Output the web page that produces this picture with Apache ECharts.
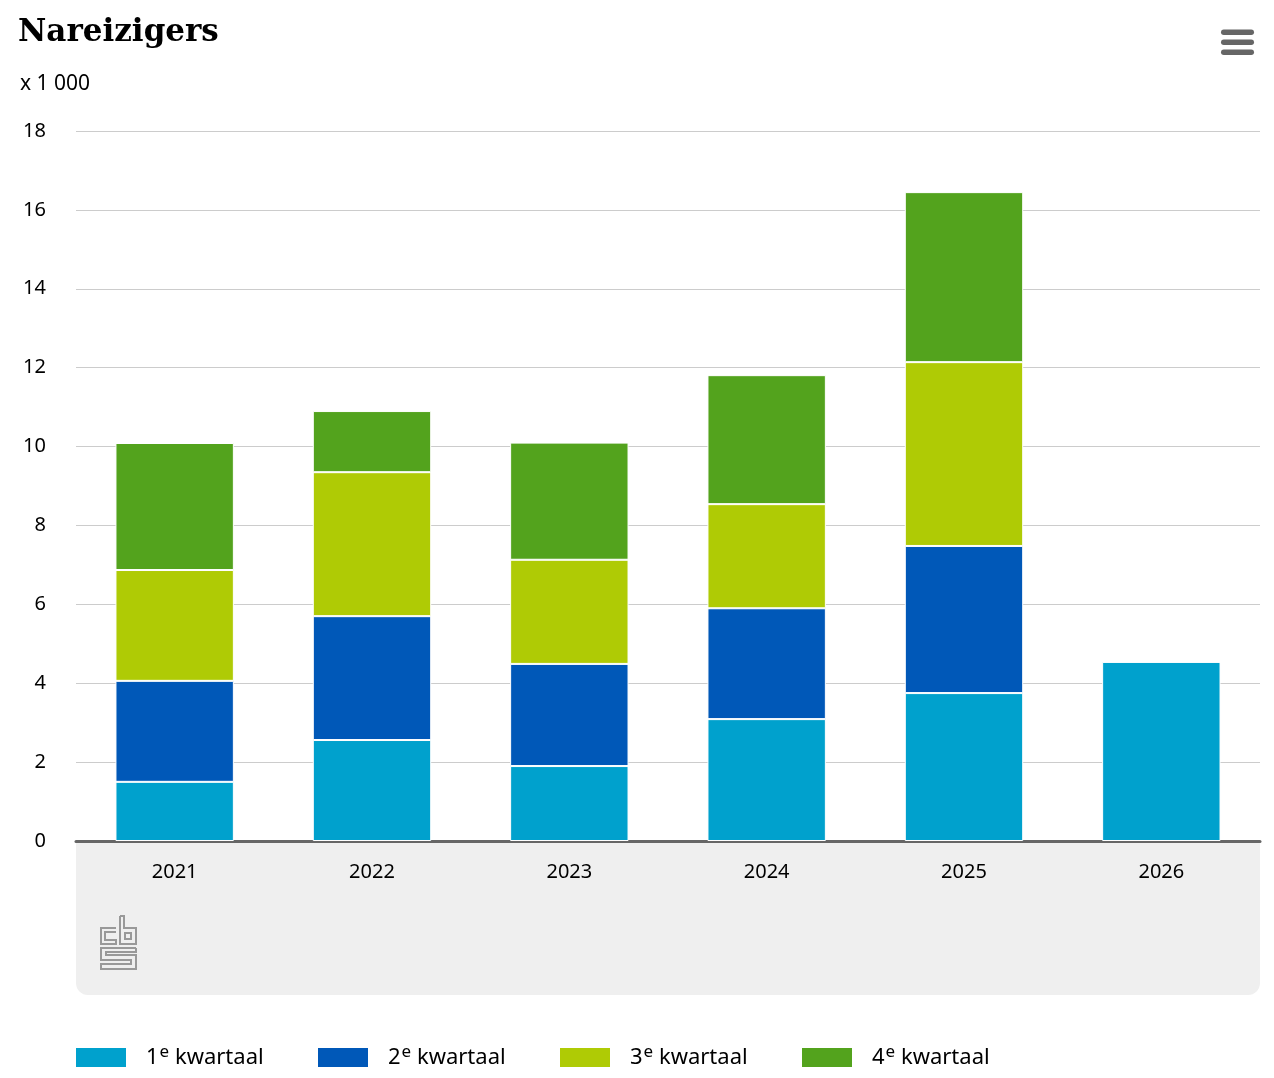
<!DOCTYPE html>
<html>
<head>
<meta charset="utf-8">
<script src="https://cdn.jsdelivr.net/npm/echarts@6/dist/echarts.min.js"></script>
<style>html,body{margin:0;padding:0;background:#fff}#c{width:1274px;height:1078px}</style>
</head>
<body>
<div id="c"></div>
<script>
var categories = ['2021', '2022', '2023', '2024', '2025', '2026'];
var q1 = [1.50, 2.56, 1.90, 3.09, 3.75, 4.54];
var q2 = [2.56, 3.14, 2.59, 2.81, 3.73, null];
var q3 = [2.81, 3.65, 2.64, 2.64, 4.66, null];
var q4 = [3.22, 1.55, 2.97, 3.27, 4.31, null];
var seriesNames = ['1e kwartaal', '2e kwartaal', '3e kwartaal', '4e kwartaal'];
var colors = ['#00a1cd', '#0058b8', '#afcb05', '#53a31d'];
var yTicks = [0, 2, 4, 6, 8, 10, 12, 14, 16, 18];

var chart = echarts.init(document.getElementById('c'));
var dataSets = [q1, q2, q3, q4];
var series = dataSets.map(function (d, i) {
  return {
    name: seriesNames[i],
    type: 'bar',
    stack: 'total',
    barWidth: '60%',
    data: d.map(function (v) { return v === null ? '-' : v; }),
    itemStyle: { color: colors[i], borderColor: '#fff', borderWidth: 1 }
  };
});

var legendLefts = [74, 316, 558, 800];
var legends = seriesNames.map(function (name, i) {
  return {
    left: legendLefts[i], top: 1044, padding: 0,
    itemWidth: 52, itemHeight: 21,
    icon: 'rect',
    selectedMode: false,
    data: [name],
    formatter: function (n) {
      return '{n|' + n.charAt(0) + '}{s|e}{t| kwartaal}';
    },
    textStyle: {
      rich: {
        n: { fontFamily: 'Noto Sans', fontSize: 22, color: '#000', height: 24, padding: [0, 0, 0, 14] },
        s: { fontFamily: 'Noto Sans', fontSize: 17, color: '#000', padding: [0, 0, 10, 1], height: 24 },
        t: { fontFamily: 'Noto Sans', fontSize: 22, color: '#000', height: 24 }
      }
    }
  };
});

var logoStyle = { stroke: '#999', lineWidth: 2, fill: null };
chart.setOption({
  animation: false,
  color: colors,
  title: [
    { text: 'Nareizigers', left: 18, top: 17, padding: 0,
      textStyle: { fontFamily: 'DejaVu Serif', fontWeight: 'bold', fontSize: 31, color: '#000' } },
    { text: 'x 1 000', left: 20, top: 74, padding: 0,
      textStyle: { fontFamily: 'Noto Sans', fontWeight: 'normal', fontSize: 21, color: '#000' } }
  ],
  grid: { left: 76, right: 14, top: 131, bottom: 237, containLabel: false },
  graphic: [
    { type: 'rect', z: -10, shape: { x: 76, y: 841, width: 1184, height: 154, r: [0, 0, 12, 12] },
      style: { fill: '#efefef' } },
    { type: 'rect', shape: { x: 1221, y: 29.5, width: 33, height: 5.5, r: 2.75 }, style: { fill: '#666' } },
    { type: 'rect', shape: { x: 1221, y: 39.5, width: 33, height: 5.5, r: 2.75 }, style: { fill: '#666' } },
    { type: 'rect', shape: { x: 1221, y: 49.5, width: 33, height: 5.5, r: 2.75 }, style: { fill: '#666' } },
    { type: 'polyline', shape: { points: [[116, 928], [101, 928], [101, 944], [116, 944], [116, 940], [105, 940], [105, 932], [116, 932]] }, style: logoStyle },
    { type: 'polyline', shape: { points: [[120, 916], [124, 916], [124, 928], [136, 928], [136, 944], [120, 944], [120, 916]] }, style: logoStyle },
    { type: 'rect', shape: { x: 125, y: 933, width: 6, height: 6 }, style: logoStyle },
    { type: 'polyline', shape: { points: [[136, 948], [101, 948], [101, 960], [131, 960], [131, 964], [101, 964], [101, 969], [136, 969], [136, 955], [106, 955], [106, 952], [136, 952], [136, 948]] }, style: logoStyle }
  ],
  legend: legends,
  xAxis: {
    type: 'category',
    data: categories,
    axisLine: { show: true, lineStyle: { color: '#666', width: 3 } },
    axisTick: { show: false },
    axisLabel: { color: '#000', fontFamily: 'Noto Sans', fontSize: 20, margin: 21 },
    splitLine: { show: false }
  },
  yAxis: {
    type: 'value',
    min: 0, max: 18, interval: 2,
    axisLine: { show: false },
    axisTick: { show: false },
    axisLabel: { color: '#000', fontFamily: 'Noto Sans', fontSize: 20, margin: 30,
      formatter: function (v) { return yTicks.indexOf(v) >= 0 ? String(v) : ''; } },
    splitLine: { lineStyle: { color: '#ccc', width: 1 } }
  },
  series: series
});
</script>
</body>
</html>
